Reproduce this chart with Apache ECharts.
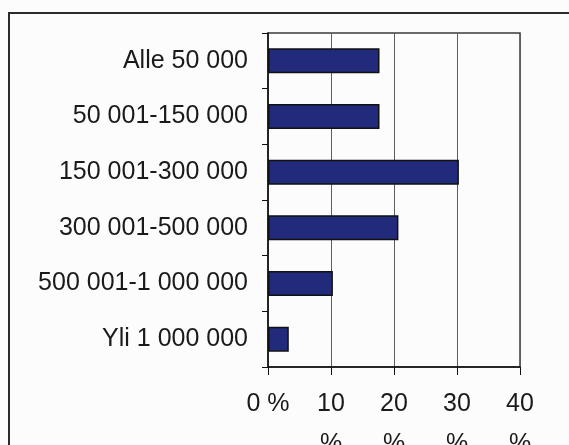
<!DOCTYPE html>
<html>
<head>
<meta charset="utf-8">
<script src="https://cdn.jsdelivr.net/npm/echarts@6/dist/echarts.min.js"></script>
<style>
  html, body { margin: 0; padding: 0; background: #fcfcfc; }
  #chart { width: 569px; height: 445px; }
</style>
</head>
<body>
<div id="chart"></div>
<script>
// Income classes (top to bottom) and share of respondents, %
const categories = [
  'Alle 50 000',
  '50 001-150 000',
  '150 001-300 000',
  '300 001-500 000',
  '500 001-1 000 000',
  'Yli 1 000 000'
];
const shares = [17.7, 17.7, 30.3, 20.7, 10.3, 3.3];
const xTicks = [0, 10, 20, 30, 40];

const FONT = '"Liberation Sans", Arial, sans-serif';

const chart = echarts.init(document.getElementById('chart'), null, { renderer: 'canvas' });

chart.setOption({
  animation: false,
  backgroundColor: '#fcfcfc',
  textStyle: { fontFamily: FONT },
  graphic: [
    {
      // outer frame around the whole chart
      type: 'rect',
      shape: { x: 9, y: 13, width: 600, height: 500 },
      style: { fill: 'none', stroke: '#2b2b2b', lineWidth: 2 },
      z: 0
    }
  ],
  grid: {
    left: 268,
    right: 49,
    top: 33,
    bottom: 78,
    containLabel: false,
    outerBoundsMode: 'none',
    show: true,
    borderColor: '#3a3a3a',
    borderWidth: 1.5,
    backgroundColor: 'transparent'
  },
  xAxis: {
    type: 'value',
    min: xTicks[0],
    max: xTicks[xTicks.length - 1],
    interval: 10,
    axisLine: { show: true, lineStyle: { color: '#111', width: 1.5 } },
    axisTick: { show: true, length: 8, lineStyle: { color: '#111', width: 1 } },
    splitLine: { show: true, lineStyle: { color: '#5e5e5e', width: 1 } },
    axisLabel: {
      margin: 17,
      fontSize: 25,
      lineHeight: 40,
      color: '#1a1a1a',
      fontFamily: FONT,
      formatter: v => (v === 0 ? '0 %' : v + '\n%')
    }
  },
  yAxis: {
    type: 'category',
    data: categories,
    inverse: true,
    axisLine: { show: true, lineStyle: { color: '#111', width: 1.5 } },
    axisTick: { show: true, length: 6, inside: false, lineStyle: { color: '#111', width: 1 } },
    splitLine: { show: false },
    axisLabel: {
      margin: 20,
      fontSize: 25,
      color: '#1a1a1a',
      fontFamily: FONT
    }
  },
  series: [
    {
      type: 'bar',
      data: shares,
      barWidth: 25,
      itemStyle: {
        color: '#222a7c',
        borderColor: '#111',
        borderWidth: 1.5
      }
    }
  ]
});
</script>
</body>
</html>
